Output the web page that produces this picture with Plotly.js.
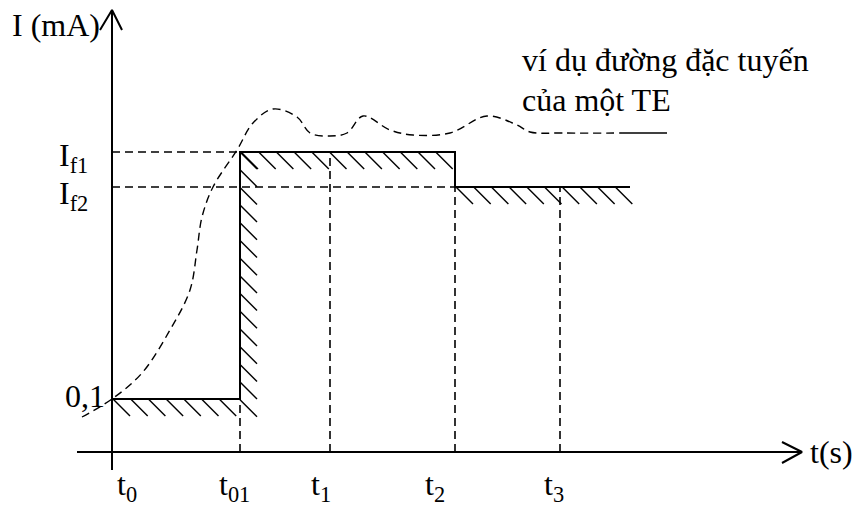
<!DOCTYPE html>
<html>
<head>
<meta charset="utf-8">
<script src="https://cdn.plot.ly/plotly-3.0.1.min.js"></script>
<style>html,body{margin:0;padding:0;background:#fff;}#chart{width:858px;height:508px;}</style>
</head>
<body>
<div id="chart"></div>
<script>
// ---- data (logical units: t along x, current I along y; origin at t0 / I=0) ----
const timeLabels = ["t<sub>0</sub>", "t<sub>01</sub>", "t<sub>1</sub>", "t<sub>2</sub>", "t<sub>3</sub>"];
const timeValues = [0, 128, 218, 343, 448];
const levelLabels = ["0,1", "I<sub>f1</sub>", "I<sub>f2</sub>"];
const levelValues = [53, 300, 265];
// required-current step profile (solid, hatched)
const stepT = [0, 128, 128, 343, 343, 518];
const stepI = [53, 53, 300, 300, 265, 265];
// example TE characteristic (dashed curve)
const curveT = [-30, 0, 30, 58, 78, 85, 90, 101, 125, 141, 161, 185, 198, 218, 235, 251, 278, 301, 338, 375, 405, 418, 451, 511];
const curveI = [35, 53, 79, 122, 162, 202, 235, 265, 302, 329, 343, 335, 319, 316, 319, 336, 322, 317, 319, 336, 327, 320, 319, 319];
const curveTailT = [511, 555];
const curveTailI = [319, 319];
const curveNote = ["ví dụ đường đặc tuyến", "của một TE"];
const axisTitleY = "I (mA)";
const axisTitleX = "t(s)";

// ---- styles ----
const FONT = {family: "Liberation Serif, Times New Roman, serif", size: 32, color: "#000"};
const HATCH = 17.7, HLEN = 17;
const traces = [];
function seg(x, y, dash, w) {
  traces.push({x: x, y: y, mode: "lines", type: "scatter", hoverinfo: "skip",
    line: {color: "#000", width: w || 1.6, dash: dash || "solid"}});
}

// axes
seg([-35, 690], [0, 0], "solid", 2);
seg([0, 0], [-18, 442], "solid", 2);
seg([670, 690, 670], [10, 0, -11], "solid", 2);
seg([-12, 0, 10], [422, 442, 422], "solid", 2);

// dashed guide lines
const dash = "8px,5px";
seg([0, timeValues[1]], [levelValues[1], levelValues[1]], dash);
seg([0, timeValues[3]], [levelValues[2], levelValues[2]], dash);
seg([timeValues[1], timeValues[1]], [0, levelValues[0]], dash);
seg([timeValues[2], timeValues[2]], [0, levelValues[1]], dash);
seg([timeValues[3], timeValues[3]], [0, levelValues[2]], dash);
seg([timeValues[4], timeValues[4]], [0, levelValues[2]], dash);

// hatching along the step profile
const hx = [], hy = [];
for (let i = 0; i < stepT.length - 1; i++) {
  const x0 = stepT[i], x1 = stepT[i + 1], y0 = stepI[i], y1 = stepI[i + 1];
  if (y0 === y1) {
    for (let x = x0 + 1; x < x1 - 8; x += HATCH) { hx.push(x, x + HLEN, null); hy.push(y0, y0 - HLEN, null); }
  } else if (y1 > y0) {
    for (let y = y1; y > y0 - 16; y -= HATCH) { hx.push(x0, x0 + HLEN, null); hy.push(y, y - HLEN, null); }
  }
}
traces.push({x: hx, y: hy, mode: "lines", type: "scatter", hoverinfo: "skip", line: {color: "#000", width: 1.4}});

// step profile
seg(stepT, stepI, "solid", 2);

// characteristic curve
traces.push({x: curveT, y: curveI, mode: "lines", type: "scatter", hoverinfo: "skip",
  line: {color: "#000", width: 1.4, dash: dash, shape: "spline", smoothing: 1}});
seg(curveTailT, curveTailI, "solid", 1.4);

// annotations
const ann = [];
function txt(text, x, y, xa, ya) {
  ann.push({text: text, x: x, y: y, xref: "x", yref: "y", xanchor: xa, yanchor: ya, showarrow: false, font: FONT, align: "left"});
}
txt(axisTitleY, -10, 427, "right", "middle");
txt(axisTitleX, 696, 0, "left", "middle");
txt(levelLabels[0], -5, 56, "right", "middle");
txt(levelLabels[1], -22, 295, "right", "middle");
txt(levelLabels[2], -22, 257, "right", "middle");
const tCenters = [15, 122, 209, 323, 442];
for (let i = 0; i < timeLabels.length; i++) txt(timeLabels[i], tCenters[i], -12, "center", "top");
txt(curveNote[0], 408, 392, "left", "middle");
txt(curveNote[1], 408, 352, "left", "middle");

const layout = {
  width: 858, height: 508, margin: {l: 0, r: 0, t: 0, b: 0},
  paper_bgcolor: "#fff", plot_bgcolor: "#fff", showlegend: false, hovermode: false,
  xaxis: {range: [-112, 746], visible: false, fixedrange: true},
  yaxis: {range: [-56, 452], visible: false, fixedrange: true},
  annotations: ann
};
Plotly.newPlot("chart", traces, layout, {staticPlot: true, displayModeBar: false});
</script>
</body>
</html>
